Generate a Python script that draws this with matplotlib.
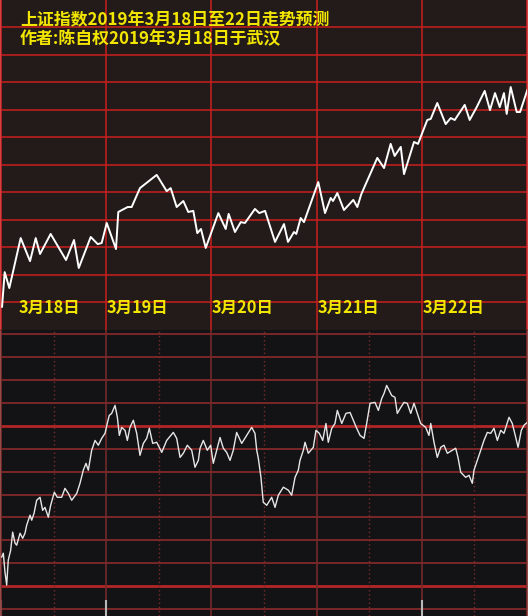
import matplotlib
matplotlib.use("Agg")
import matplotlib.pyplot as plt

plt.rcParams['font.family'] = ['Noto Sans CJK SC', 'DejaVu Sans']

# ---------------- data ----------------
title_lines = ["上证指数2019年3月18日至22日走势预测", "作者:陈自权2019年3月18日于武汉"]
day_labels = ["3月18日", "3月19日", "3月20日", "3月21日", "3月22日"]

# upper panel: forecast curve (x in trading days, y in grid units*10)
top_t = [0.01, 0.035, 0.079, 0.187, 0.276, 0.330, 0.371, 0.472, 0.618, 0.694,
         0.739, 0.853, 0.919, 0.957, 1.005, 1.093, 1.115, 1.204, 1.242, 1.321,
         1.480, 1.575, 1.613, 1.670, 1.733, 1.780, 1.828, 1.866, 1.901, 1.946,
         2.066, 2.136, 2.164, 2.224, 2.279, 2.319, 2.414, 2.455, 2.510, 2.605,
         2.690, 2.728, 2.785, 2.807, 2.849, 2.880, 3.016, 3.080, 3.134, 3.156,
         3.197, 3.260, 3.349, 3.387, 3.425, 3.577, 3.641, 3.704, 3.742, 3.800,
         3.831, 3.926, 3.964, 4.052, 4.085, 4.147, 4.227, 4.275, 4.313, 4.408,
         4.455, 4.522, 4.598, 4.648, 4.696, 4.741, 4.781, 4.807, 4.845, 4.902,
         4.934, 5.003]
top_v = [8.3, 20.9, 15.1, 33.3, 24.9, 33.3, 27.5, 34.8, 25.3, 32.6,
         22.4, 33.7, 31.1, 31.5, 38.8, 29.3, 42.8, 44.6, 44.6, 51.5,
         56.3, 50.4, 51.5, 44.6, 46.8, 42.8, 43.2, 35.1, 36.6, 29.7,
         42.4, 36.6, 42.1, 35.5, 39.1, 38.8, 43.9, 42.4, 43.2, 31.9,
         38.4, 31.9, 35.5, 34.8, 40.6, 39.1, 53.7, 42.4, 47.9, 46.8,
         49.7, 43.5, 47.2, 44.6, 49.3, 62.5, 58.8, 67.6, 63.2, 66.5,
         56.6, 68.3, 67.6, 76.3, 76.7, 82.5, 74.8, 77.0, 76.3, 81.8,
         76.3, 81.0, 86.9, 79.9, 86.1, 81.0, 86.1, 78.5, 88.3, 79.2,
         79.2, 87.2]

# lower panel: minute-style trace
bot_t = [0.007, 0.022, 0.038, 0.054, 0.069, 0.092, 0.111, 0.133, 0.149, 0.181,
         0.206, 0.228, 0.244, 0.276, 0.292, 0.314, 0.339, 0.371, 0.396, 0.418,
         0.450, 0.472, 0.507, 0.535, 0.577, 0.608, 0.640, 0.672, 0.720, 0.751,
         0.782, 0.808, 0.830, 0.862, 0.894, 0.925, 0.957, 0.989, 1.010, 1.029,
         1.052, 1.084, 1.106, 1.125, 1.147, 1.179, 1.201, 1.226, 1.258, 1.290,
         1.321, 1.353, 1.385, 1.410, 1.442, 1.480, 1.528, 1.575, 1.638, 1.670,
         1.702, 1.733, 1.771, 1.813, 1.844, 1.876, 1.892, 1.923, 1.961, 1.993,
         2.018, 2.050, 2.082, 2.113, 2.145, 2.177, 2.208, 2.240, 2.288, 2.336,
         2.383, 2.414, 2.431, 2.446, 2.471, 2.493, 2.526, 2.573, 2.605, 2.636,
         2.684, 2.731, 2.763, 2.795, 2.826, 2.842, 2.874, 2.890, 2.921, 2.969,
         2.994, 3.026, 3.058, 3.089, 3.111, 3.144, 3.175, 3.197, 3.239, 3.279,
         3.318, 3.349, 3.381, 3.413, 3.451, 3.476, 3.508, 3.555, 3.587, 3.619,
         3.641, 3.666, 3.714, 3.745, 3.767, 3.800, 3.831, 3.862, 3.895, 3.926,
         3.957, 3.989, 4.037, 4.068, 4.085, 4.116, 4.147, 4.180, 4.211, 4.243,
         4.290, 4.322, 4.344, 4.370, 4.417, 4.449, 4.480, 4.496, 4.528, 4.560,
         4.591, 4.623, 4.655, 4.686, 4.718, 4.750, 4.781, 4.829, 4.860, 4.893,
         4.915, 4.946, 4.971, 5.003]
bot_v = [22.7, 24.4, 16.1, 10.5, 21.4, 25.7, 33.6, 28.8, 27.9, 33.1,
         30.9, 33.1, 36.6, 41.0, 38.8, 41.8, 47.5, 48.8, 43.1, 44.4,
         40.1, 45.3, 51.0, 48.8, 48.8, 52.7, 50.5, 47.5, 50.5, 54.9,
         60.6, 63.6, 60.6, 69.3, 73.6, 71.5, 74.5, 76.7, 81.0, 84.5,
         85.4, 88.9, 83.7, 75.8, 79.3, 78.0, 73.6, 79.3, 82.4, 76.7,
         67.1, 72.3, 74.5, 78.9, 72.3, 72.8, 68.4, 73.6, 77.1, 74.5,
         66.2, 68.0, 71.5, 69.3, 61.9, 64.9, 70.2, 73.6, 69.3, 71.5,
         63.6, 69.3, 74.9, 70.2, 68.4, 64.9, 69.3, 77.1, 72.3, 75.8,
         79.3, 76.7, 69.3, 65.8, 57.5, 46.6, 45.3, 48.8, 44.4, 49.7,
         53.2, 51.9, 49.7, 57.5, 60.6, 64.9, 69.3, 72.8, 68.0, 70.6,
         78.0, 76.7, 73.6, 81.0, 72.8, 78.9, 81.0, 86.7, 81.0, 85.4,
         85.8, 82.4, 78.9, 75.8, 74.5, 81.0, 89.8, 90.2, 86.7, 91.9,
         94.1, 97.6, 93.2, 92.4, 85.4, 88.0, 90.2, 89.8, 85.4, 89.8,
         85.4, 81.0, 79.3, 75.8, 81.0, 72.8, 66.2, 70.6, 71.5, 68.0,
         69.3, 70.2, 66.2, 59.7, 57.5, 58.4, 54.9, 60.6, 64.9, 69.3,
         73.6, 77.1, 76.7, 78.9, 73.6, 78.0, 76.7, 83.7, 81.0, 74.9,
         70.6, 78.0, 80.2, 81.5]

n_days = 5
top_grid = list(range(10, 120, 10))
bot_grid = list(range(0, 130, 10))
bot_major = [10, 80]
marker_days = [0.0, 1.0, 4.0]

# ---------------- style ----------------
W, H = 529, 616
fig = plt.figure(figsize=(W / 100, H / 100), dpi=100, facecolor='white')

top_bg = '#221b1a'
bot_bg = '#131316'
red = '#c91f1f'
dred = '#7e2a2a'
yellow = '#f2e600'

split = 329.5
ax1 = fig.add_axes([1 / W, (H - split) / H, 526 / W, split / H])
ax2 = fig.add_axes([1 / W, 0, 526 / W, (H - split) / H])

# upper panel
ax1.set_facecolor(top_bg)
ax1.set_xlim(0, n_days)
ax1.set_ylim(0, 120)
for g in top_grid:
    ax1.axhline(g, color=red, lw=1.1, zorder=1)
for d in range(1, n_days):
    ax1.axvline(d, color=red, lw=1.1, zorder=1)
ax1.plot(top_t, top_v, color='white', lw=1.4, solid_joinstyle='round', zorder=3)
for i, lab in enumerate(day_labels):
    x = 0.17 if i == 0 else i + 0.006
    ax1.text(x, 8.0, lab, color=yellow, fontsize=11.8, fontweight='bold',
             ha='left', va='center', zorder=4)
ax1.set_xticks([])
ax1.set_yticks([])
for s in ['top', 'bottom']:
    ax1.spines[s].set_visible(False)
for s in ['left', 'right']:
    ax1.spines[s].set_color(red)
    ax1.spines[s].set_linewidth(1.2)

# lower panel
ax2.set_facecolor(bot_bg)
ax2.set_xlim(0, n_days)
ax2.set_ylim(-3, 122)
for g in bot_grid:
    if g in bot_major:
        ax2.axhline(g, color='#b32626', lw=2.0, zorder=1)
    else:
        ax2.axhline(g, color='#8a2a2a', lw=1.2, zorder=1)
for d in range(1, n_days):
    ax2.axvline(d, color='#73292a', lw=1.2, zorder=1)
for d in range(n_days):
    ax2.axvline(d + 0.5, color='#7a2a2a', lw=1.0, ls=(0, (1, 2)), zorder=1)
ax2.vlines(marker_days, -3, 4, color='#b8b8b8', lw=1.5, zorder=2)
ax2.plot(bot_t, bot_v, color='#e6e6e6', lw=1.0, zorder=3)
ax2.set_xticks([])
ax2.set_yticks([])
for s in ['top', 'bottom']:
    ax2.spines[s].set_visible(False)
for s in ['left', 'right']:
    ax2.spines[s].set_color(dred)
    ax2.spines[s].set_linewidth(1.2)

# titles
fig.text(20 / W, 1 - 20 / H, title_lines[0], color=yellow, fontsize=12.2,
         fontweight='bold', ha='left', va='center')
fig.text(20 / W, 1 - 39 / H, title_lines[1], color=yellow, fontsize=12.2,
         fontweight='bold', ha='left', va='center')

fig.savefig('out.png', dpi=100, facecolor=fig.get_facecolor())
